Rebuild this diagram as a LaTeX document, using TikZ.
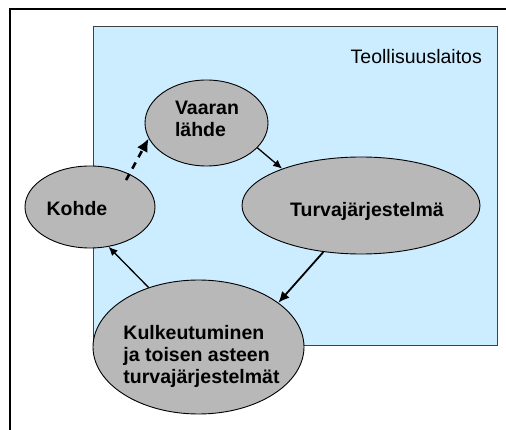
\documentclass[tikz,border=0pt]{standalone}
\usepackage{fontspec}
\setmainfont{Liberation Sans}
\usetikzlibrary{arrows.meta,shapes.geometric}

\definecolor{plant}{HTML}{CCECFF}
\definecolor{blobgray}{HTML}{B8B8B8}

\tikzset{
  blob/.style={ellipse, draw=black, line width=0.9pt, fill=blobgray, inner sep=0pt},
  txt/.style={font=\fontsize{19.5}{22}\selectfont\bfseries, align=left, inner sep=0pt},
  flow/.style={line width=1.3pt, -{Latex[length=9pt,width=8pt]}},
  flowthick/.style={line width=1.8pt, -{Latex[length=11pt,width=10pt]}},
  maybe/.style={line width=2.6pt, dash pattern=on 7pt off 6pt, shorten <=-7pt, -{Latex[length=13pt,width=12pt]}}
}

\begin{document}
\begin{tikzpicture}[x=1pt,y=-1pt]

 % page frame
 \clip (0,0) rectangle (506,430);
 \draw[line width=2pt] (10,9) rectangle (540,460);

 % plant area
 \draw[fill=plant, draw=black!75, line width=0.9pt] (93,26) rectangle (497,345);
 \node[anchor=east, font=\fontsize{19.5}{22}\selectfont, inner sep=0pt] (plant) at (482,57) {Teollisuuslaitos};

 % ellipses
 \node[blob, minimum width=123, minimum height=86] (vaaran) at (206.5,123) {};
 \node[blob, minimum width=130, minimum height=82] (kohde) at (90,207) {};
 \node[blob, minimum width=238, minimum height=97] (turva) at (361,205.5) {};
 \node[blob, minimum width=211, minimum height=134] (kulk) at (198.5,347) {};

 % texts
 \node[txt] (vaaranteksti) at (207,119) {Vaaran\\lähde};
 \node[txt] (kohdeteksti) at (77,209) {Kohde};
 \node[txt] (turvateksti) at (367,211) {Turvajärjestelmä};
 \node[txt] (kulkteksti) at (201.5,356) {Kulkeutuminen\\ja toisen asteen\\turvajärjestelmät};

 % connections
 \draw[maybe] (kohde.40) -- (vaaran.195);
 \draw[flow] (vaaran.-26) -- (turva.155);
 \draw[flowthick] (turva.231) -- (kulk.29);
 \draw[flow] (kulk.130) -- (kohde.-65);

\end{tikzpicture}
\end{document}
